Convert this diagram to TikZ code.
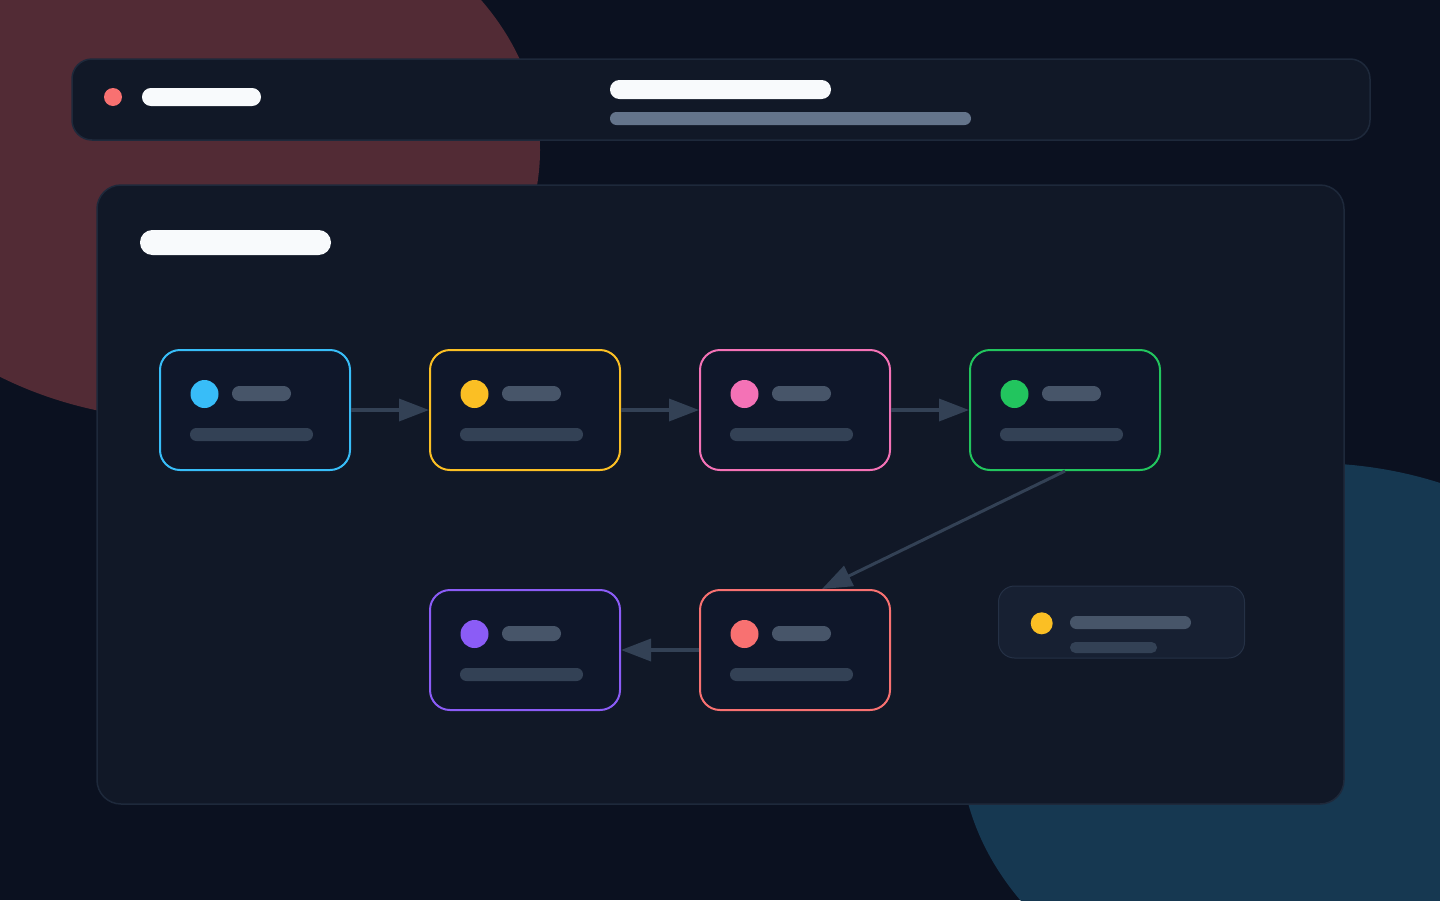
\documentclass[tikz,border=0pt]{standalone}
\usetikzlibrary{arrows.meta}
\definecolor{fondo}{HTML}{0B1120}
\definecolor{manchaRoja}{HTML}{522B35}
\definecolor{manchaAzul}{HTML}{163851}
\definecolor{panel}{HTML}{111827}
\definecolor{borde}{HTML}{1E293B}
\definecolor{tarjetaFondo}{HTML}{0F172A}
\definecolor{blanco}{HTML}{F8FAFC}
\definecolor{grisClaro}{HTML}{64748B}
\definecolor{grisMedio}{HTML}{475569}
\definecolor{grisOscuro}{HTML}{334155}
\definecolor{azul}{HTML}{38BDF8}
\definecolor{amarillo}{HTML}{FBBF24}
\definecolor{rosa}{HTML}{F472B6}
\definecolor{verde}{HTML}{22C55E}
\definecolor{rojo}{HTML}{F87171}
\definecolor{morado}{HTML}{8B5CF6}
\definecolor{leyendaFondo}{HTML}{172032}
\definecolor{leyendaBorde}{HTML}{253146}
\begin{document}
\begin{tikzpicture}[x=1pt, y=-1pt,
  tarjeta/.style={rectangle, rounded corners=20pt, line width=2pt, fill=tarjetaFondo, minimum width=190pt, minimum height=120pt, inner sep=0pt},
  leyenda/.style={rectangle, rounded corners=16pt, line width=1pt, draw=leyendaBorde, fill=leyendaFondo, minimum width=246pt, minimum height=72pt, inner sep=0pt},
  flecha/.style={line width=3.5pt, draw=grisOscuro, -{Triangle[length=30pt, width=22pt]}}]

% Fondo y manchas
\useasboundingbox (0,0) rectangle (1440,900);
\clip (0,0) rectangle (1440,900);
\fill[fondo] (0,0) rectangle (1440,900);
\fill[manchaRoja] (190,150) ellipse [x radius=350pt, y radius=270pt];
\fill[manchaAzul] (1310,743) ellipse [x radius=350pt, y radius=280pt];

% Cabecera
\draw[borde, fill=panel, line width=1.5pt, rounded corners=20pt] (72,59) rectangle (1370,140);
\fill[rojo] (113,97) circle (9pt);
\fill[blanco, rounded corners=8.9pt] (142,88) rectangle (261,106);
\fill[blanco, rounded corners=9.4pt] (610,80) rectangle (831,99);
\fill[grisClaro, rounded corners=6.4pt] (610,112) rectangle (971,125);

% Panel principal
\draw[borde, fill=panel, line width=1.5pt, rounded corners=24pt] (97,185) rectangle (1344,804);
\fill[blanco, rounded corners=12.4pt] (140,230) rectangle (331,255);

% Tarjetas del flujo
\foreach \nombre/\cx/\cy/\col in {n1/255/410/azul, n2/525/410/amarillo, n3/795/410/rosa, n4/1065/410/verde, n5/795/650/rojo, n6/525/650/morado} {
  \node[tarjeta, draw=\col] (\nombre) at (\cx,\cy) {};
  \fill[\col] (\cx-50.5,\cy-16) circle (14pt);
  \fill[grisMedio, rounded corners=7.4pt] (\cx-23,\cy-24) rectangle (\cx+36,\cy-9);
  \fill[grisOscuro, rounded corners=6.4pt] (\cx-65,\cy+18) rectangle (\cx+58,\cy+31);
}

% Flechas
\draw[flecha] (n1) -- (n2);
\draw[flecha] (n2) -- (n3);
\draw[flecha] (n3) -- (n4);
\draw[flecha, line width=3pt] (n4.south) -- ([xshift=27pt]n5.north);
\draw[flecha] (n5) -- (n6);

% Leyenda
\node[leyenda] (ley) at (1121.5,622) {};
\fill[amarillo] (1041.7,623.3) circle (11pt);
\fill[grisMedio, rounded corners=6.4pt] (1070,616) rectangle (1191,629);
\fill[grisOscuro, rounded corners=5.4pt] (1070,642) rectangle (1157,653);

\end{tikzpicture}
\end{document}
